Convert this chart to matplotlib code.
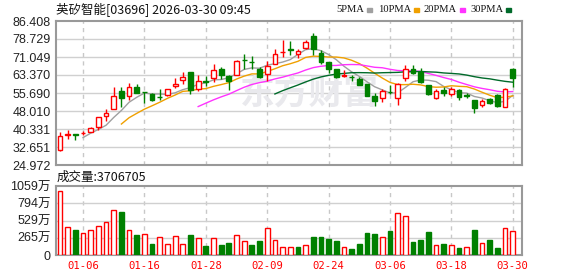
import numpy as np
import pandas as pd
import matplotlib
matplotlib.use("Agg")
import matplotlib.pyplot as plt

# 英矽智能 03696 日K (2025-12-31 ~ 2026-03-30)
prev_close = 31.3   # 12-30 收盘 (用于均线)
opens = [31.4, 37.8, 38.1, 38.6, 39.1, 41.1, 45.8, 48.7, 56.5, 54.2,
         58.3, 56.1, 55.1, 54.0, 54.9, 58.5, 61.1, 64.8, 57.3, 60.8,
         62.2, 65.8, 63.0, 63.4, 69.9, 69.0, 66.05, 63.9, 68.2, 73.0,
         74.3, 72.5, 74.9, 80.1, 72.7, 68.9, 65.8, 63.1, 62.7, 61.5,
         59.4, 54.5, 53.65, 56.2, 53.5, 62.0, 65.8, 64.8, 59.2, 53.5,
         56.8, 55.1, 57.0, 54.7, 52.5, 50.6, 53.1, 54.8, 49.9, 65.9]
highs = [39.0, 40.1, 38.1, 39.4, 41.0, 45.6, 48.9, 58.2, 58.2, 60.0,
         59.7, 56.2, 55.5, 57.6, 57.2, 62.2, 64.8, 64.8, 63.4, 63.0,
         67.9, 66.8, 63.2, 69.7, 72.4, 71.3, 66.8, 69.3, 74.6, 78.5,
         78.0, 74.5, 78.5, 81.5, 74.2, 69.0, 65.9, 65.5, 63.5, 62.7,
         59.5, 55.9, 57.3, 59.2, 60.1, 67.5, 67.6, 66.5, 59.3, 57.2,
         58.1, 58.1, 57.3, 55.8, 52.8, 53.0, 53.7, 55.3, 57.7, 66.2]
lows = [30.8, 35.9, 35.6, 37.6, 39.0, 39.7, 43.9, 48.7, 49.8, 52.8,
        55.5, 51.6, 52.4, 52.9, 54.2, 58.0, 59.7, 55.2, 56.6, 58.7,
        60.4, 61.8, 56.9, 63.2, 66.0, 65.8, 62.0, 60.8, 67.9, 71.1,
        71.7, 70.7, 74.5, 71.7, 68.2, 64.1, 62.2, 62.7, 60.9, 59.15,
        54.2, 50.3, 51.7, 55.4, 50.4, 60.6, 63.8, 59.8, 55.0, 53.3,
        54.4, 54.5, 52.8, 53.4, 47.2, 49.85, 50.9, 49.85, 49.6, 58.1]
closes = [37.3, 38.1, 37.95, 38.7, 40.7, 45.3, 47.0, 54.6, 53.65, 58.2,
          55.9, 56.0, 52.5, 53.8, 57.2, 59.4, 62.7, 56.9, 60.8, 60.4,
          65.6, 63.5, 60.7, 69.15, 69.8, 68.9, 62.7, 67.2, 72.4, 73.2,
          74.2, 73.8, 77.3, 74.5, 68.9, 66.05, 62.7, 63.4, 62.5, 59.3,
          54.5, 52.1, 56.6, 56.0, 59.6, 65.9, 64.35, 60.5, 55.3, 56.7,
          55.6, 57.3, 54.1, 54.5, 49.5, 52.3, 51.55, 50.15, 57.3, 62.2]
# 成交量 (万股)
volumes = [982, 425, 384, 333, 379, 440, 501, 686, 660, 379,
           302, 317, 169, 271, 164, 286, 164, 302, 256, 138,
           256, 153, 179, 302, 215, 153, 215, 409, 230, 118,
           128, 118, 148, 276, 276, 246, 215, 118, 92, 169,
           338, 322, 271, 368, 645, 593, 200, 230, 353, 148,
           169, 148, 107, 118, 384, 179, 230, 107, 409, 370.67]

tick_idx = [3, 11, 19, 27, 35, 43, 51, 59]
tick_labels = ["01-06", "01-16", "01-28", "02-09", "02-24", "03-06", "03-18", "03-30"]
price_ticks = [24.972, 32.651, 40.331, 48.010, 55.690, 63.370, 71.049, 78.729, 86.408]
vol_ticks = [0, 265, 529, 794, 1059]
ma_periods = [5, 10, 20, 30]
ma_colors = ["#a0a0a0", "#f0a000", "#ff33ff", "#006a2a"]

RED = "#ff0000"
GREEN = "#008000"

n = len(closes)
x = np.arange(n)
o = np.array(opens)
c = np.array(closes)
h = np.array(highs)
l = np.array(lows)
pc = np.array([prev_close] + closes[:-1])

up = np.where(c > o, True, np.where(c < o, False, c >= pc))
vol_up = c >= pc

plt.rcParams['font.family'] = ['Liberation Sans', 'Noto Sans CJK SC']
fig = plt.figure(figsize=(5.78, 2.76), dpi=100)
ax = fig.add_axes([55.5 / 578, 1 - 165 / 276, 466.5 / 578, 144 / 276])
axv = fig.add_axes([55.5 / 578, 1 - 255 / 276, 466.5 / 578, 69 / 276])

for a in (ax, axv):
    a.set_xlim(-0.59, 60.2)
    for s in a.spines.values():
        s.set_color("#999999")
        s.set_linewidth(1.5)
    a.tick_params(length=0, labelsize=9, colors="#222222")
    for t in tick_idx:
        a.axvline(t, color="#c8c8c8", lw=1, ls=(0, (3, 3)), zorder=0)
    a.set_xticks(tick_idx)

# 价格
ax.set_ylim(price_ticks[0], price_ticks[-1])
ax.set_yticks(price_ticks)
ax.set_yticklabels(["%.3f" % v for v in price_ticks])
for v in price_ticks[1:-1]:
    ax.axhline(v, color="#d0d0d0", lw=1, zorder=0)
ax.set_xticklabels([])

ax.text(32.5, 55.7, "东方财富", fontsize=25, fontweight="bold", color="#e9e9ed",
        ha="center", va="center", zorder=0.5, family=['Noto Sans CJK SC'])

cols = np.where(up, RED, GREEN)
ax.vlines(x, l, h, colors=cols, lw=1, zorder=2)
body_bottom = np.minimum(o, c)
body_h = np.maximum(np.abs(c - o), 0.05)
ax.bar(x, body_h, bottom=body_bottom, width=0.62,
       facecolor=np.where(up, "white", GREEN), edgecolor=cols, lw=1, zorder=3)

closes_all = pd.Series([prev_close] + closes)
for p, col in zip(ma_periods, ma_colors):
    ma = closes_all.rolling(p).mean().values[1:]
    ax.plot(x, ma, color=col, lw=1, zorder=1.5)

# 成交量
axv.set_ylim(0, 1059)
axv.set_yticks(vol_ticks)
axv.set_yticklabels([str(v) if v == 0 else "%d万" % v for v in vol_ticks])
for v in vol_ticks[1:-1]:
    axv.axhline(v, color="#d0d0d0", lw=1, zorder=0)
vcols = np.where(vol_up, RED, GREEN)
axv.bar(x, volumes, width=0.62, facecolor=np.where(vol_up, "white", GREEN),
        edgecolor=vcols, lw=1, zorder=3)
axv.set_xticklabels(tick_labels, color=RED, family="DejaVu Sans Mono", fontsize=7.6)
axv.tick_params(axis="x", pad=4)

# 标题与图例
fig.text(56 / 578, 1 - 10 / 276, "英矽智能[03696] 2026-03-30 09:45", fontsize=9,
         va="center", ha="left", color="#111111", family=['Noto Sans CJK SC'])
fig.text(57 / 578, 1 - 177 / 276, "成交量:3706705", fontsize=9,
         va="center", ha="left", color="#111111", family=['Noto Sans CJK SC'])
renderer = fig.canvas.get_renderer()
leg_x = [336, 378, 424, 470]
for lx, p, col in zip(leg_x, ma_periods, ma_colors):
    t = fig.text(lx / 578, 1 - 10 / 276, "%dPMA" % p, fontsize=7.6, va="center",
                 ha="left", color="#111111", family="Liberation Serif")
    x_end = t.get_window_extent(renderer).x1
    fig.patches.append(plt.Rectangle(((x_end + 3) / 578, 1 - 11.5 / 276), 5 / 578, 3 / 276,
                                     transform=fig.transFigure, color=col, figure=fig))

fig.savefig("out.png", dpi=100)
